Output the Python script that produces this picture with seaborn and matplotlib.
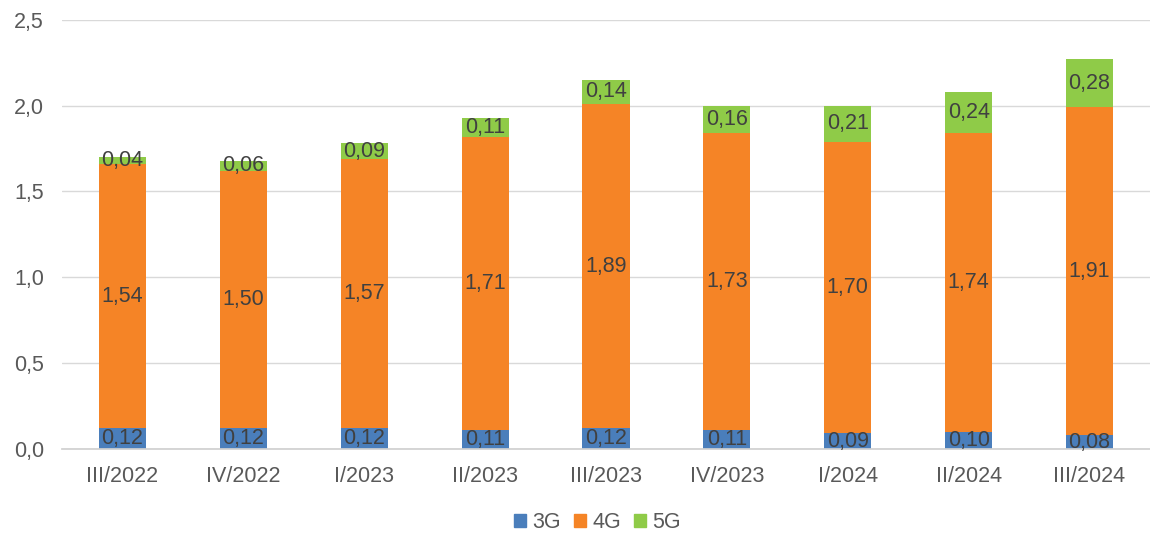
import numpy as np
import pandas as pd
import matplotlib
matplotlib.use('Agg')
import matplotlib.pyplot as plt
import seaborn as sns
from matplotlib.patches import Patch

# Data
quarters = ['III/2022', 'IV/2022', 'I/2023', 'II/2023', 'III/2023',
            'IV/2023', 'I/2024', 'II/2024', 'III/2024']
g3 = [0.12, 0.12, 0.12, 0.11, 0.12, 0.11, 0.09, 0.10, 0.08]
g4 = [1.54, 1.50, 1.57, 1.71, 1.89, 1.73, 1.70, 1.74, 1.91]
g5 = [0.04, 0.06, 0.09, 0.11, 0.14, 0.16, 0.21, 0.24, 0.28]

c3, c4, c5 = '#4a7ebb', '#f58426', '#8fcb48'

sns.set_theme(style='white')
plt.rcParams['font.family'] = ['Liberation Sans', 'DejaVu Sans']

df = pd.DataFrame({'quarter': quarters, '3G': g3, '4G': g4, '5G': g5})
df['s3'] = df['3G']
df['s4'] = df['3G'] + df['4G']
df['s5'] = df['s4'] + df['5G']

fig = plt.figure(figsize=(11.5, 5.37), dpi=100)
ax = fig.add_axes([0.054, 0.164, 0.946, 0.799])

# stacked look: draw cumulative totals back to front
w = 0.39
for col, c in [('s5', c5), ('s4', c4), ('s3', c3)]:
    sns.barplot(data=df, x='quarter', y=col, color=c, width=w, saturation=1,
                linewidth=0, edgecolor=c, ax=ax, zorder=2)

def fmt(v):
    return f'{v:.2f}'.replace('.', ',')

lab_col = '#404040'
fs = 15.5
for i, row in df.iterrows():
    ax.text(i, row['s3'] / 2, fmt(row['3G']), ha='center', va='center',
            fontsize=fs, color=lab_col, zorder=3, clip_on=False)
    ax.text(i, (row['s3'] + row['s4']) / 2, fmt(row['4G']), ha='center', va='center',
            fontsize=fs, color=lab_col, zorder=3)
    ax.text(i, (row['s4'] + row['s5']) / 2, fmt(row['5G']), ha='center', va='center',
            fontsize=fs, color=lab_col, zorder=3)

ax.set_ylim(0, 2.5)
ax.set_xlim(-0.5, len(quarters) - 0.5)
ax.set_yticks(np.arange(0, 2.51, 0.5))
ax.set_yticklabels([f'{v:.1f}'.replace('.', ',') for v in np.arange(0, 2.51, 0.5)])
ax.yaxis.grid(True, color='#d9d9d9', linewidth=1, zorder=0)
ax.set_axisbelow(True)
ax.set_xlabel('')
ax.set_ylabel('')
ax.tick_params(axis='both', length=0, labelsize=15.5, labelcolor='#595959')
ax.tick_params(axis='x', pad=12)
ax.tick_params(axis='y', pad=13)
for s in ['top', 'right', 'left']:
    ax.spines[s].set_visible(False)
ax.spines['bottom'].set_color('#d0d0d0')

handles = [Patch(color=c3, label='3G'), Patch(color=c4, label='4G'), Patch(color=c5, label='5G')]
ax.legend(handles=handles, loc='center', bbox_to_anchor=(0.492, -0.172), ncol=3,
          frameon=False, fontsize=15.5, handlelength=0.55, handleheight=0.55,
          handletextpad=0.3, columnspacing=0.6, labelcolor='#595959')

fig.savefig('out.png', dpi=100)
